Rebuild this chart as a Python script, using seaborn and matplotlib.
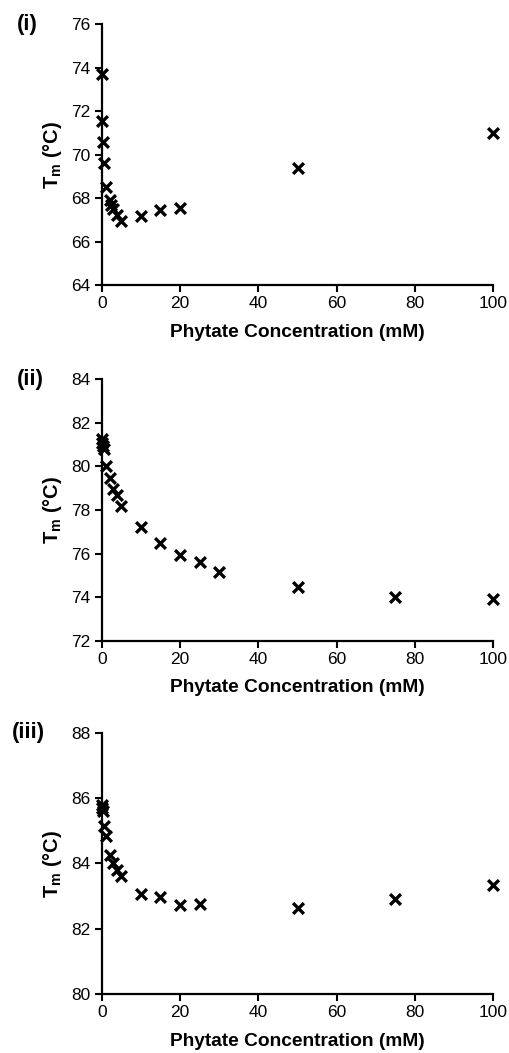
import matplotlib
matplotlib.use('Agg')
import pandas as pd
import seaborn as sns
from matplotlib import pyplot as plt

# phytate concentration (mM) and melting temperature (C) for each panel
conc_i = [0, 0.1, 0.25, 0.5, 1, 2, 2.5, 3, 4, 5, 10, 15, 20, 50, 100]
tm_i = [73.7, 71.55, 70.6, 69.6, 68.5, 67.9, 67.7, 67.5, 67.25, 66.95,
        67.2, 67.45, 67.55, 69.4, 71.0]

conc_ii = [0, 0.1, 0.25, 0.5, 1, 2, 3, 4, 5, 10, 15, 20, 25, 30, 50, 75, 100]
tm_ii = [81.25, 81.1, 80.95, 80.8, 80.0, 79.45, 78.95, 78.7, 78.2, 77.2,
         76.5, 75.95, 75.6, 75.15, 74.45, 74.0, 73.9]

conc_iii = [0, 0.1, 0.25, 0.5, 1, 2, 3, 4, 5, 10, 15, 20, 25, 50, 75, 100]
tm_iii = [85.8, 85.7, 85.6, 85.15, 84.85, 84.25, 84.0, 83.8, 83.6, 83.05,
          82.97, 82.72, 82.77, 82.64, 82.9, 83.35]

panel_tags = ['(i)', '(ii)', '(iii)']
y_ranges = [(64, 76), (72, 84), (80, 88)]
x_ticks = [0, 20, 40, 60, 80, 100]


def draw_panel(fig, rect, conc, tm, y_range, tag, tag_x):
    """Draw one Tm vs phytate concentration scatter panel."""
    ax = fig.add_axes(rect)
    df = pd.DataFrame({'conc': conc, 'tm': tm})
    sns.scatterplot(data=df, x='conc', y='tm', marker='x', color='black',
                    s=60, linewidth=2.4, clip_on=False, zorder=3, ax=ax)

    ax.set_xlim(0, 100)
    ax.set_ylim(*y_range)
    ax.set_xticks(x_ticks)
    ax.set_yticks(range(y_range[0], y_range[1] + 1, 2))
    sns.despine(ax=ax)
    for side in ['left', 'bottom']:
        ax.spines[side].set_linewidth(1.6)
        ax.spines[side].set_color('black')
    ax.tick_params(axis='both', direction='out', length=5, width=1.5,
                   color='black', labelcolor='black', labelsize=12.5, pad=3)

    ax.set_xlabel('Phytate Concentration (mM)', fontsize=13.8,
                  fontweight='bold', color='black', labelpad=9)
    ax.set_ylabel(r'$\mathbf{T_m}$ (°C)', fontsize=14.5,
                  fontweight='bold', color='black', labelpad=5)

    top = rect[1] + rect[3]
    fig.text(tag_x, top, tag, fontsize=16, fontweight='bold',
             color='black', ha='left', va='center')
    return ax


sns.set_style('ticks')
plt.rcParams['font.family'] = ['Liberation Sans', 'DejaVu Sans']
plt.rcParams['mathtext.fontset'] = 'custom'
plt.rcParams['mathtext.rm'] = 'Liberation Sans'
plt.rcParams['mathtext.bf'] = 'Liberation Sans:bold'
plt.rcParams['text.color'] = 'black'

fig = plt.figure(figsize=(5.09, 10.53), dpi=100)

left, width, height = 0.1998, 0.7694, 0.2481
bottoms = [0.7291, 0.3916, 0.0560]
tag_xs = [0.033, 0.033, 0.024]
series = [(conc_i, tm_i), (conc_ii, tm_ii), (conc_iii, tm_iii)]

for (conc, tm), bottom, y_range, tag, tag_x in zip(series, bottoms, y_ranges,
                                                    panel_tags, tag_xs):
    draw_panel(fig, [left, bottom, width, height], conc, tm, y_range, tag,
               tag_x)

fig.savefig('out.png', dpi=100)
